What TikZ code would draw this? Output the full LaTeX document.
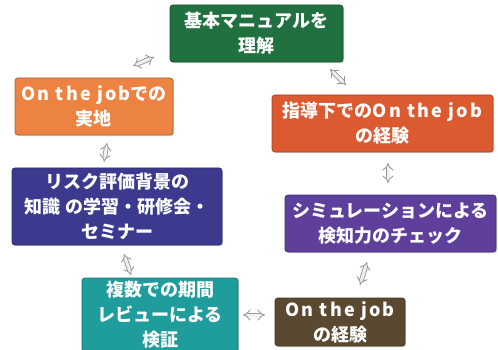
\documentclass[tikz,border=0pt]{standalone}
\usepackage{fontspec}
\setmainfont{Noto Sans CJK JP}
\usetikzlibrary{arrows.meta,shadows}
\newcommand\lat[1]{{\addfontfeature{LetterSpace=12}#1}}
\definecolor{cgreen}{HTML}{21703F}
\definecolor{corange}{HTML}{EC8342}
\definecolor{cred}{HTML}{DC5A30}
\definecolor{cblue}{HTML}{3C3A8E}
\definecolor{cpurple}{HTML}{5E3F9C}
\definecolor{cteal}{HTML}{1F9C9C}
\definecolor{cbrown}{HTML}{5A4930}
\tikzset{
  box/.style={rounded corners=3pt, draw=#1!75!black, line width=0.8pt, fill=#1,
    text=white, align=center, inner sep=0pt, font=\bfseries\fontsize{18}{25}\selectfont,
    drop shadow={opacity=0.35, shadow xshift=1.2pt, shadow yshift=-1.2pt}},
  arr/.style={draw=gray!80, double=gray!12, double distance=3pt, line width=0.9pt,
    {Implies}-{Implies}}
}
\begin{document}
\begin{tikzpicture}[x=1pt,y=-1pt]
\useasboundingbox (0,0) rectangle (498,350);
\fill[white] (0,0) rectangle (498,350);
\node[box=cgreen, minimum width=173pt, minimum height=57pt] (g) at (256.5,33.5) {基本マニュアルを\\理解};
\node[box=corange, minimum width=158pt, minimum height=57pt] (o) at (94,106.5) {\lat{On the job}での\\実地};
\node[box=cred, minimum width=221pt, minimum height=57pt] (r) at (382.5,123.5) {指導下での\lat{On the job}\\の経験};
\node[box=cblue, minimum width=210pt, minimum height=77pt] (b) at (117,206.5) {リスク評価背景の\\知識 の学習・研修会・\\セミナー};
\node[box=cpurple, minimum width=211pt, minimum height=57pt] (p) at (390.5,223.5) {シミュレーションによる\\検知力のチェック};
\node[box=cteal, minimum width=156pt, minimum height=74pt] (t) at (160,315) {複数での期間\\レビューによる\\検証};
\node[box=cbrown, minimum width=130pt, minimum height=48pt] (br) at (340,322) {\lat{On the job}\\の経験};
\coordinate (go1) at (154,57);  \coordinate (go2) at (133,66);
\coordinate (gr1) at (330,69);  \coordinate (gr2) at (346,85);
\coordinate (ob1) at (107,143); \coordinate (ob2) at (104,162);
\coordinate (rp1) at (388,163); \coordinate (rp2) at (388,183);
\coordinate (bt1) at (124,254); \coordinate (bt2) at (131,275);
\coordinate (pb1) at (367,262); \coordinate (pb2) at (360,285);
\coordinate (tb1) at (243,315); \coordinate (tb2) at (265,315);
\draw[arr] (go1) -- (go2);
\draw[arr] (gr1) -- (gr2);
\draw[arr] (ob1) -- (ob2);
\draw[arr] (rp1) -- (rp2);
\draw[arr] (bt1) -- (bt2);
\draw[arr] (pb1) -- (pb2);
\draw[arr] (tb1) -- (tb2);
\end{tikzpicture}
\end{document}
